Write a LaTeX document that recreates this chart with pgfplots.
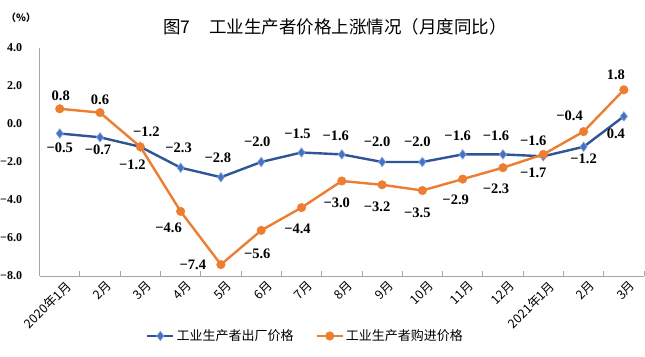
\documentclass[border=0pt]{standalone}
\usepackage{pgfplots}
\pgfplotsset{compat=1.18}
\usepackage{pgfplotstable}
\usepackage{fontspec}
\setmainfont{Liberation Serif}
\newfontfamily\cjk{Noto Sans CJK SC}
\definecolor{pblue}{HTML}{2F5597}
\definecolor{pbluem}{HTML}{4472C4}
\definecolor{porange}{HTML}{ED7D31}
\definecolor{axgray}{HTML}{A6A6A6}

\pgfplotstableread{
x y dx dy lab
0 -0.5 0 -14 −0.5
1 -0.7 -2 -12 −0.7
2 -1.2 -8 -18 −1.2
3 -2.3 -2 20 −2.3
4 -2.8 -3 19 −2.8
5 -2.0 -4 20 −2.0
6 -1.5 -4 19 −1.5
7 -1.6 -6 19 −1.6
8 -2.0 -5 20 −2.0
9 -2.0 -5 20 −2.0
10 -1.6 -5 19 −1.6
11 -1.6 -7 19 −1.6
12 -1.7 -10 -17 −1.7
13 -1.2 0 -12 −1.2
14 0.4 -8 -17 0.4
}\bluetab

\pgfplotstableread{
x y dx dy lab
0 0.8 1 13 0.8
1 0.6 0 13 0.6
2 -1.2 6 15 −1.2
3 -4.6 -12 -16 −4.6
4 -7.4 -28 0 −7.4
5 -5.6 -4 -23 −5.6
6 -4.4 -4 -21 −4.4
7 -3.0 -5 -22 −3.0
8 -3.2 -5 -22 −3.2
9 -3.5 -5 -22 −3.5
10 -2.9 -7 -21 −2.9
11 -2.3 -7 -21 −2.3
12 -1.6 -10 14 −1.6
13 -0.4 -14 16 −0.4
14 1.8 -8 15 1.8
}\orangetab

\begin{document}
\begin{tikzpicture}
\useasboundingbox (0,0) rectangle (645pt,356pt);
\begin{axis}[
  at={(39.6pt,80pt)}, anchor=south west,
  scale only axis, width=604.4pt, height=228pt,
  xmin=-0.5, xmax=14.5, ymin=-8, ymax=4,
  axis x line*=bottom, axis y line*=left,
  axis line style={axgray, line width=0.8pt},
  clip=false,
  xtick={0,...,14},
  xticklabels={2020年1月,2月,3月,4月,5月,6月,7月,8月,9月,10月,11月,12月,2021年1月,2月,3月},
  minor xtick={-0.5,0.5,...,14.5},
  major x tick style={draw=none},
  minor x tick style={axgray, line width=0.8pt},
  minor tick length=5pt,
  tick align=inside,
  ytick={-8,-6,...,4},
  yticklabels={−8.0,−6.0,−4.0,−2.0,0.0,2.0,4.0},
  y tick style={draw=none},
  xticklabel style={font=\cjk\fontsize{12.5}{12.5}\selectfont, rotate=45, anchor=north east, inner sep=1pt, xshift=2pt, yshift=-5pt},
  yticklabel style={font=\bfseries\fontsize{12}{12}\selectfont, anchor=east, xshift=-14pt},
  legend style={at={(0.44,-0.263)}, anchor=center, draw=none, fill=none,
    font=\cjk\fontsize{13}{13}\selectfont, legend columns=2,
    /tikz/every even column/.append style={column sep=20pt}},
  legend cell align=left,
  legend image code/.code={\draw[mark repeat=2,mark phase=2,#1] plot coordinates {(0pt,0pt)(13pt,0pt)(26pt,0pt)};},
  point meta=explicit symbolic,
  nodes near coords,
  nodes near coords align={center},
  visualization depends on={\thisrow{dx}\as\dx},
  visualization depends on={\thisrow{dy}\as\dy},
  every node near coord/.append style={anchor=center, xshift=\dx pt, yshift=\dy pt, font=\bfseries\fontsize{14.5}{14.5}\selectfont, text=black},
]
\addplot[color=pblue, line width=2.4pt, mark=diamond*, mark size=4.8pt, mark options={fill=pbluem, draw=pbluem!60!white, line width=0.6pt}]
  table[x=x, y=y, meta=lab] {\bluetab};
\addlegendentry{工业生产者出厂价格}
\addplot[color=porange, line width=2.4pt, mark=*, mark size=4.3pt, mark options={fill=porange, draw=porange, line width=0.4pt}]
  table[x=x, y=y, meta=lab] {\orangetab};
\addlegendentry{工业生产者购进价格}
\end{axis}
\node[font=\cjk\fontsize{17.5}{17.5}\selectfont] at (335pt,329pt) {图7\hspace{1.1em}工业生产者价格上涨情况（月度同比）};
\node[font=\cjk\bfseries\fontsize{10}{10}\selectfont] at (21pt,338pt) {（\%）};
\end{tikzpicture}
\end{document}
